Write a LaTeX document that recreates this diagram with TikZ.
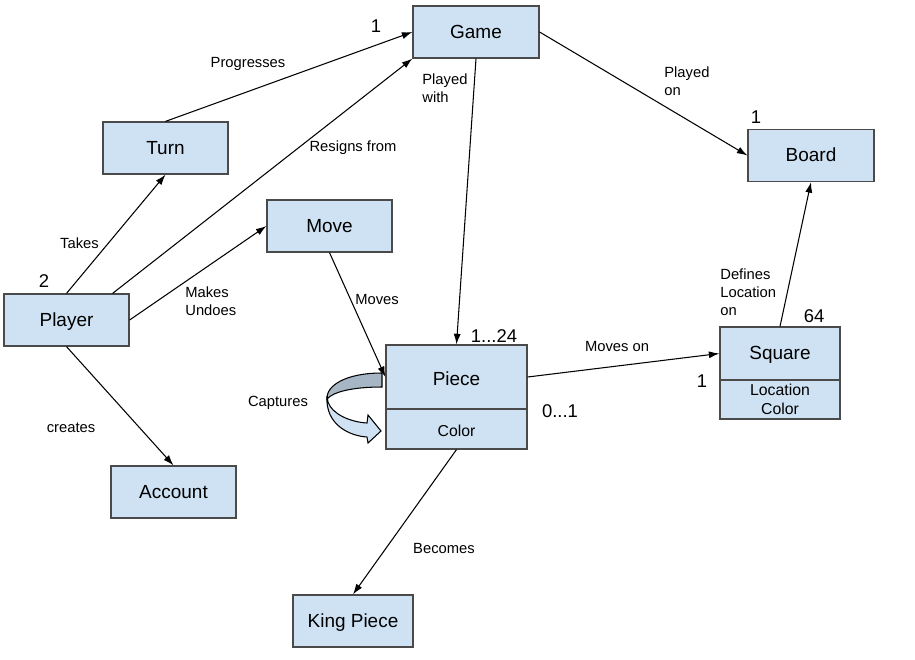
\documentclass[tikz,border=0pt]{standalone}
\usepackage{fontspec}
\setmainfont{Liberation Sans}
\usetikzlibrary{arrows.meta}
\definecolor{boxfill}{HTML}{CFE2F3}
\definecolor{boxline}{HTML}{4A4A4A}
\definecolor{capdark}{HTML}{A7B6C5}
\tikzset{
  cls/.style={draw=boxline,fill=boxfill,line width=0.7pt,minimum width=2.5cm,minimum height=1.04cm,inner sep=0pt,text height=0.716em,text depth=0pt,font=\fontsize{10.8}{13}\selectfont},
  attr/.style={draw=boxline,fill=boxfill,line width=0.7pt,inner sep=0pt,align=center,font=\fontsize{9}{10.8}\selectfont},
  rel/.style={-{Latex[length=6pt,width=4pt]},line width=0.6pt},
  lbl/.style={inner sep=0pt,align=left,font=\fontsize{8.4}{10.2}\selectfont},
  mult/.style={inner sep=0pt,font=\fontsize{10.5}{12}\selectfont},
}
\begin{document}
\begin{tikzpicture}[x=0.02cm,y=-0.02cm]
\useasboundingbox[fill=white] (0,0) rectangle (915,659);
\node[cls,minimum width=2.52cm](game) at (476,32){Game};
\node[cls](turn) at (165.5,148){Turn};
\node[cls](move) at (329.5,226){Move};
\node[cls](player) at (66.5,320){Player};
\node[cls,minimum width=2.52cm](board) at (811,155.5){Board};
\node[cls](account) at (173.5,492){Account};
\node[cls,minimum width=2.4cm](king) at (353,621){King Piece};
\node[cls,minimum width=2.82cm,minimum height=1.28cm,text height=0.98em](piece) at (456.5,377){Piece};
\node[attr,minimum width=2.82cm,minimum height=0.8cm,text height=0.8em,text depth=0pt](pieceattr) at (456.5,429){Color};
\node[cls,minimum width=2.4cm,minimum height=1.06cm](square) at (780,353.5){Square};
\node[attr,minimum width=2.4cm,minimum height=0.78cm,text depth=0pt](squareattr) at (780,399.5){Location\\Color};
\draw[rel](turn.north)--(game.west);
\draw[rel](player.30)--(game.south west);
\draw[rel](player.north)--(turn.south);
\draw[rel](player.east)--(move.west);
\draw[rel](player.south)--(account.north);
\draw[rel](game.south)--(piece.north);
\draw[rel](game.east)--(board.west);
\draw[rel](move.south)--(piece.west);
\draw[rel](piece.east)--(square.west);
\draw[rel](square.north)--(board.south);
\draw[rel](pieceattr.south)--(king.north);
\draw[fill=boxfill,line width=0.6pt](327,396) .. controls (325,425) and (350,436) .. (367,437)--(368,443)--(381,431)--(368,415)--(367,423) .. controls (350,422) and (332,414) .. (328,402)--cycle;
\draw[fill=capdark,line width=0.6pt](382,373) .. controls (345,373) and (326,386) .. (327,399) .. controls (333,392) and (352,387) .. (382,387)--cycle;
\node[lbl](progresses) at (248,64){Progresses};
\node[lbl](resigns) at (353,148){Resigns from};
\node[lbl](takes) at (79.5,243){Takes};
\node[lbl,anchor=west](makes) at (185,301){Makes\\Undoes};
\node[lbl](moves) at (377,299){Moves};
\node[lbl,anchor=west](playedwith) at (422,88){Played\\with};
\node[lbl,anchor=west](playedon) at (664,81.5){Played\\on};
\node[lbl,anchor=west](defines) at (720,292){Defines\\Location\\on};
\node[lbl](moveson) at (617,346){Moves on};
\node[lbl](captures) at (278,403){Captures};
\node[lbl](creates) at (71,428){creates};
\node[lbl](becomes) at (444,548){Becomes};
\node[mult](mplayer) at (44,281){2};
\node[mult](mgame) at (376,26){1};
\node[mult](mboard) at (756,117){1};
\node[mult](msquaretop) at (814,316){64};
\node[mult](mpiece) at (494,336){1...24};
\node[mult](msquare) at (702,381){1};
\node[mult](mpiececolor) at (560,411){0...1};
\end{tikzpicture}
\end{document}
